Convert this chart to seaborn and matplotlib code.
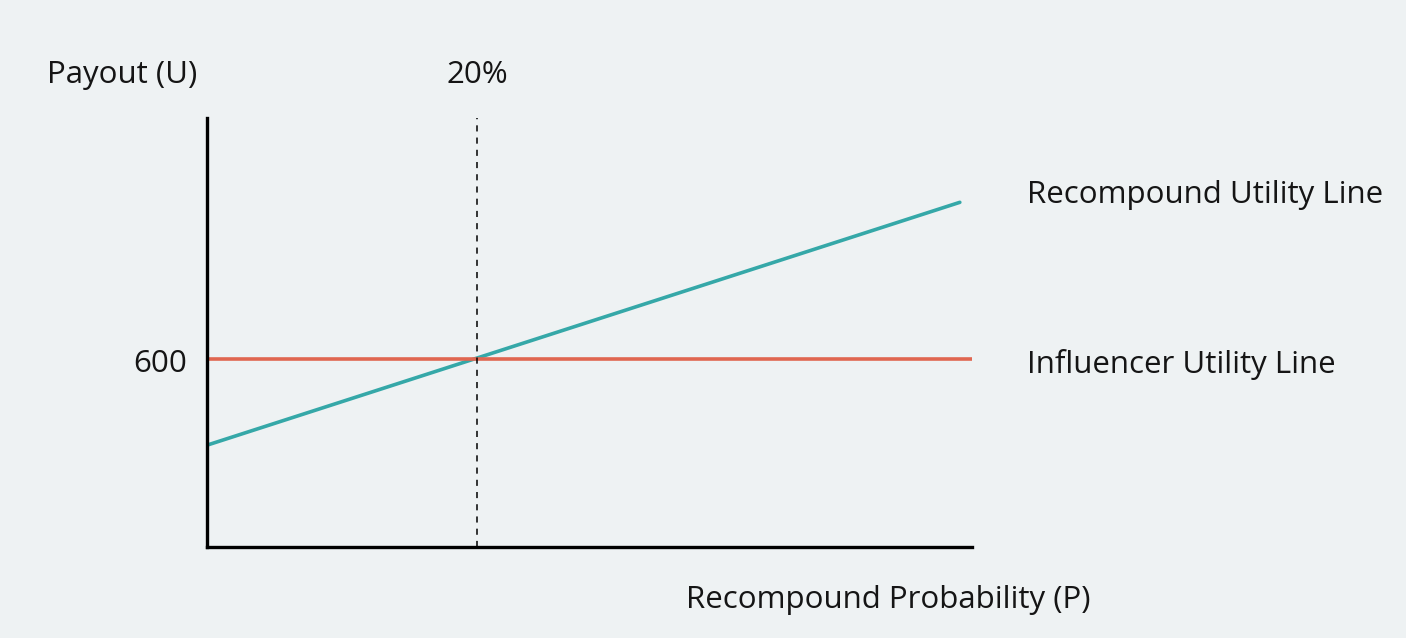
import pandas as pd
import matplotlib.pyplot as plt
import seaborn as sns

# Values (x in %, y in payout units)
recompound_p = [0, 55.8]
recompound_u = [325, 1100]
influencer_p = [0, 56.7]
influencer_u = [600, 600]
break_even_p = 20
break_even_u = 600

lines = pd.concat([
    pd.DataFrame({'p': recompound_p, 'u': recompound_u, 'line': 'Recompound Utility Line'}),
    pd.DataFrame({'p': influencer_p, 'u': influencer_u, 'line': 'Influencer Utility Line'}),
])

sns.set_style('white')
plt.rcParams['font.family'] = ['Open Sans', 'DejaVu Sans']
plt.rcParams['text.color'] = '#151515'
bg = '#eef2f3'

fig = plt.figure(figsize=(14.06, 6.38), dpi=100, facecolor=bg)
ax = fig.add_axes([0.1472, 0.1426, 0.6913 - 0.1472, 0.815 - 0.1426])
ax.set_facecolor(bg)

sns.lineplot(data=lines, x='p', y='u', hue='line',
             palette={'Recompound Utility Line': '#35a8a8', 'Influencer Utility Line': '#e06650'},
             linewidth=2.6, legend=False, ax=ax)
ax.axvline(break_even_p, color='black', linestyle=(0, (4, 4)), linewidth=1.1)

ax.set_xlim(0, 56.7)
ax.set_ylim(0, 1369)
ax.set_xticks([])
ax.set_yticks([])
ax.set_xlabel('')
ax.set_ylabel('')
for s in ['top', 'right']:
    ax.spines[s].set_visible(False)
for s in ['left', 'bottom']:
    ax.spines[s].set_linewidth(2.4)
    ax.spines[s].set_color('black')

fs = 22.5
fig.text(47 / 1406, 1 - 75 / 638, 'Payout (U)', fontsize=fs, va='center', ha='left')
fig.text(477 / 1406, 1 - 75 / 638, f'{break_even_p}%', fontsize=fs, va='center', ha='center')
fig.text(187 / 1406, 1 - 364 / 638, f'{break_even_u}', fontsize=fs, va='center', ha='right')
fig.text(1090 / 1406, 1 - 600 / 638, 'Recompound Probability (P)', fontsize=fs, va='center', ha='right')
fig.text(1027 / 1406, 1 - 195 / 638, 'Recompound Utility Line', fontsize=fs, va='center', ha='left')
fig.text(1027 / 1406, 1 - 364 / 638, 'Influencer Utility Line', fontsize=fs, va='center', ha='left')

fig.savefig('out.png', dpi=100, facecolor=bg)
